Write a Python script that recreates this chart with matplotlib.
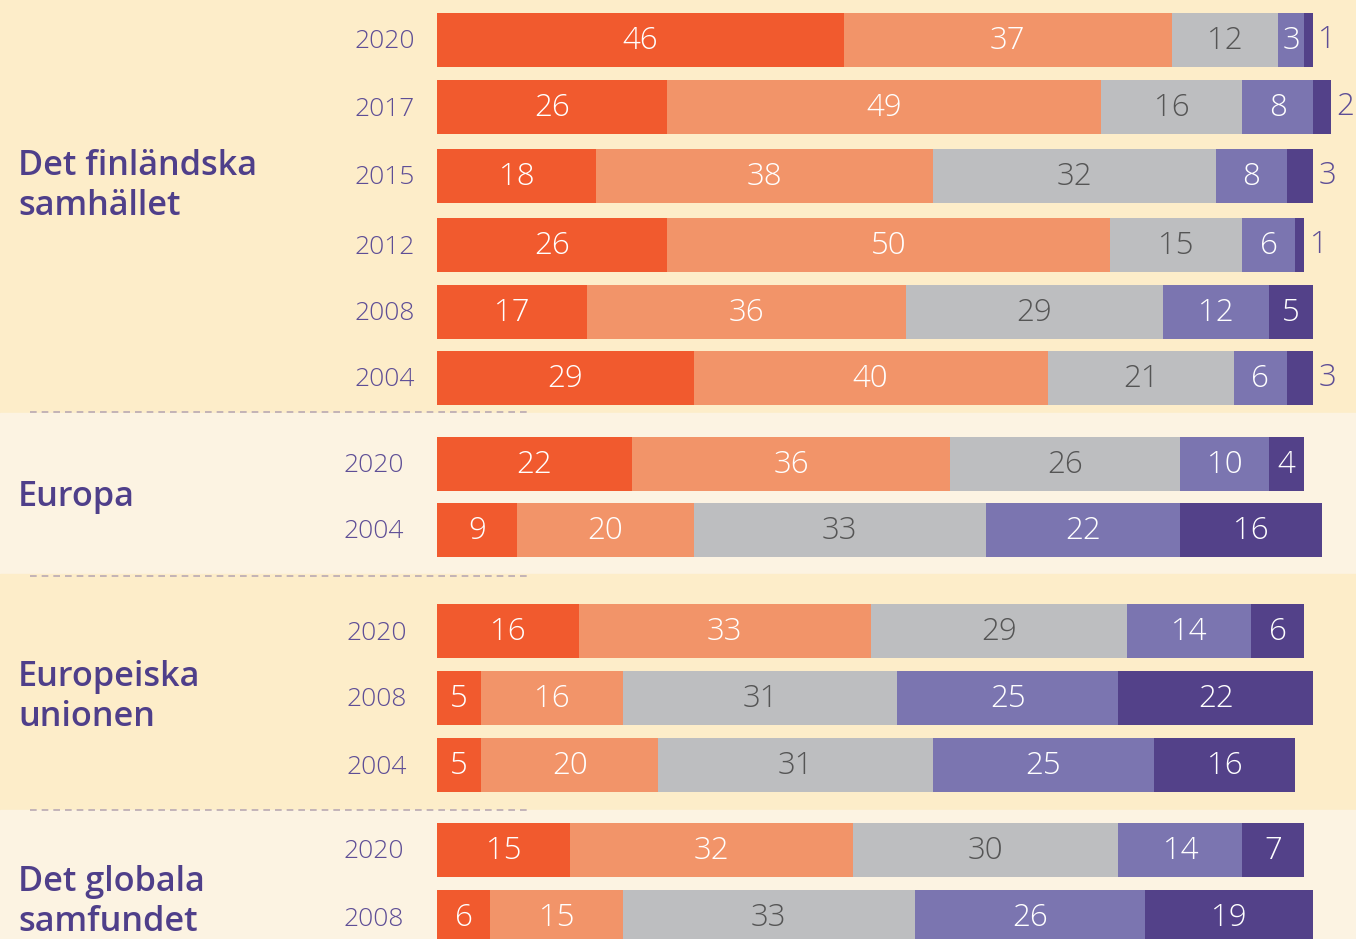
import matplotlib.pyplot as plt

# Data: shares per answer category, per area and survey year
groups = ["Det finländska\nsamhället", "Europa", "Europeiska\nunionen", "Det globala\nsamfundet"]
years = [
    ["2020", "2017", "2015", "2012", "2008", "2004"],
    ["2020", "2004"],
    ["2020", "2008", "2004"],
    ["2020", "2008"],
]
values = [
    [[46, 37, 12, 3, 1], [26, 49, 16, 8, 2], [18, 38, 32, 8, 3],
     [26, 50, 15, 6, 1], [17, 36, 29, 12, 5], [29, 40, 21, 6, 3]],
    [[22, 36, 26, 10, 4], [9, 20, 33, 22, 16]],
    [[16, 33, 29, 14, 6], [5, 16, 31, 25, 22], [5, 20, 31, 25, 16]],
    [[15, 32, 30, 14, 7], [6, 15, 33, 26, 19]],
]

seg_colors = ["#F15A2E", "#F29469", "#BDBEC0", "#7B75B0", "#534189"]
txt_colors = ["white", "white", "#555555", "white", "white"]
bands = ["#FDEDC9", "#FCF3E2", "#FDEDC9", "#FCF3E2"]

# layout in pixel rows (figure is 939 px tall)
band_edges = [(0, 413), (413, 574), (574, 810), (810, 939)]
row_y = [[40, 107, 176, 245, 312, 378], [464, 530], [631, 698, 765], [850, 917]]
label_y = [186, 497, 697, 902]
year_x = [415, 404, 407, 404]
bar_h = 54
px = 8.85  # pixels per percent
x0 = 437

font = "Open Sans"
purple = "#4F3F8A"
year_col = "#5E4E96"

fig = plt.figure(figsize=(13.56, 9.39), dpi=100)
ax = fig.add_axes([0, 0, 1, 1])
ax.set_xlim(-x0 / px, (1356 - x0) / px)
ax.set_ylim(939, 0)
ax.axis("off")

xpx = lambda p: p / px - x0 / px

for gi, grp in enumerate(groups):
    top, bot = band_edges[gi]
    ax.axhspan(top, bot, color=bands[gi], zorder=0)
    ax.text(xpx(18), label_y[gi], grp, ha="left", va="center", fontsize=24.7,
            fontweight="semibold", color=purple, family=font, linespacing=1.2)
    for ri, yr in enumerate(years[gi]):
        y = row_y[gi][ri]
        ax.text(xpx(year_x[gi]), y + 2, yr, ha="right", va="center", fontsize=19,
                fontweight="light", color=year_col, family=font)
        left = 0
        for si, v in enumerate(values[gi][ri]):
            ax.barh(y, v, left=left, height=bar_h, color=seg_colors[si], zorder=2)
            if v <= 3 and si == 4:
                ax.text(left + v + 0.6, y, str(v), ha="left", va="center", fontsize=22.5,
                        fontweight="light", color=year_col, family=font)
            else:
                ax.text(left + v / 2, y + 1, str(v), ha="center", va="center", fontsize=22.5,
                        fontweight="light", color=txt_colors[si], family=font, zorder=3)
            left += v

# dashed separators between groups
for sep in [412, 576, 810]:
    ax.plot([xpx(30), xpx(528)], [sep, sep], ls=(0, (4, 3)), lw=1.2, color="#B9A9B3", zorder=1)

fig.savefig("out.png", dpi=100)
